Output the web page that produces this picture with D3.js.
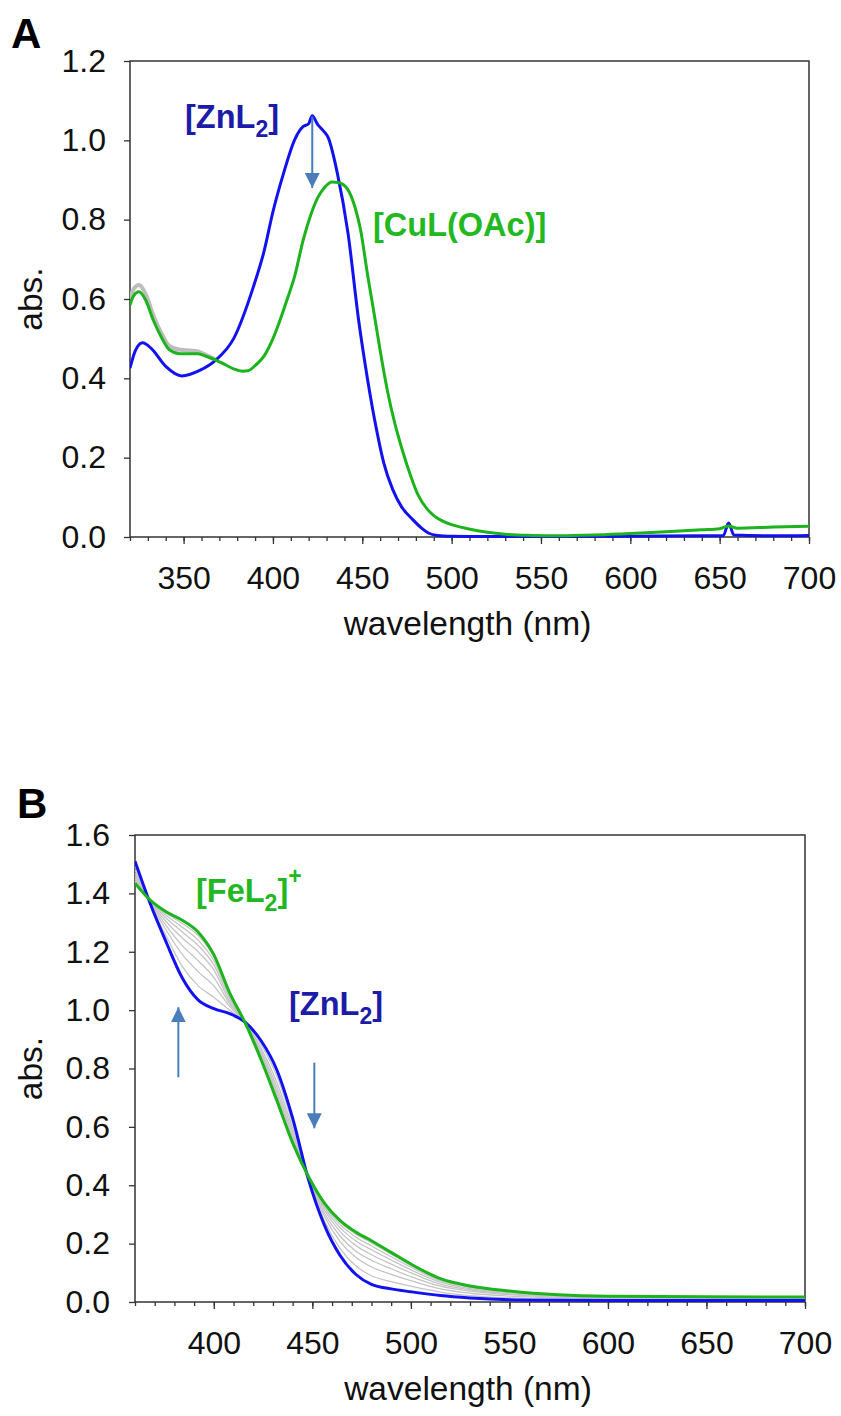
<!DOCTYPE html>
<html>
<head>
<meta charset="utf-8">
<script src="https://cdn.jsdelivr.net/npm/d3@7"></script>
<style>
  body { margin: 0; background: #fff; }
  svg text { font-family: "Liberation Sans", Arial, sans-serif; }
</style>
</head>
<body>
<svg id="chart" width="841" height="1416"></svg>
<script>
// ---- panel A data ----
var aBlueWl  = [320, 323, 327, 332, 340, 349, 359, 368, 378, 389, 395, 400, 406, 412, 415, 417, 420, 422, 425, 428, 431, 436, 442, 448, 453, 458, 462, 467, 472, 478, 483, 487, 492, 500, 520, 560, 600, 640, 652, 655, 658, 680, 700];
var aBlueAbs = [0.426, 0.47, 0.49, 0.475, 0.43, 0.406, 0.42, 0.446, 0.50, 0.63, 0.72, 0.82, 0.918, 1.0, 1.025, 1.035, 1.042, 1.062, 1.04, 1.025, 1.006, 0.918, 0.766, 0.545, 0.396, 0.27, 0.187, 0.12, 0.076, 0.045, 0.023, 0.01, 0.004, 0.002, 0.001, 0.001, 0.002, 0.003, 0.003, 0.035, 0.005, 0.003, 0.004];

var aGreenWl  = [320, 322, 325, 329, 333, 338, 342, 348, 354, 358, 363, 368, 373, 378, 383, 386, 390, 395, 400, 404, 408, 412, 417, 421, 425, 429, 433, 437, 442, 446, 449, 453, 456, 460, 464, 468, 472, 477, 481, 486, 490, 495, 500, 509, 520, 530, 545, 560, 580, 600, 620, 640, 650, 655, 660, 680, 700];
var aGreenAbs = [0.585, 0.608, 0.618, 0.595, 0.547, 0.50, 0.472, 0.462, 0.462, 0.462, 0.455, 0.446, 0.435, 0.424, 0.418, 0.419, 0.432, 0.456, 0.50, 0.547, 0.60, 0.655, 0.75, 0.81, 0.855, 0.882, 0.895, 0.893, 0.875, 0.83, 0.775, 0.66, 0.58, 0.47, 0.37, 0.29, 0.225, 0.155, 0.108, 0.072, 0.054, 0.04, 0.031, 0.021, 0.012, 0.007, 0.004, 0.003, 0.005, 0.009, 0.013, 0.018, 0.021, 0.028, 0.022, 0.025, 0.027];

var aGrayWl  = [320, 322, 325, 329, 333, 338, 342, 348, 354, 358, 363, 368];
var aGrayAbs = [0.60, 0.625, 0.635, 0.61, 0.56, 0.51, 0.482, 0.472, 0.47, 0.468, 0.458, 0.447];

var aXTicks = [350, 400, 450, 500, 550, 600, 650, 700];
var aYTicks = [0, 0.2, 0.4, 0.6, 0.8, 1.0, 1.2];

// ---- panel B data ----
var bWl = [360, 368, 376, 384, 392, 400, 408, 416, 424, 432, 440, 448, 456, 464, 472, 480, 490, 500, 515, 530, 550, 575, 600, 650, 700];
var bZnL2 = [1.51, 1.36, 1.23, 1.11, 1.035, 1.005, 0.988, 0.958, 0.895, 0.795, 0.63, 0.42, 0.265, 0.16, 0.095, 0.06, 0.045, 0.035, 0.022, 0.014, 0.008, 0.006, 0.005, 0.005, 0.005];
var bFeL2 = [1.435, 1.375, 1.336, 1.308, 1.268, 1.19, 1.06, 0.955, 0.83, 0.69, 0.545, 0.43, 0.34, 0.28, 0.24, 0.21, 0.17, 0.13, 0.08, 0.055, 0.038, 0.025, 0.02, 0.018, 0.017];
// intermediate titration spectra (grey)
var bStep1 = [1.495, 1.363, 1.251, 1.150, 1.084, 1.044, 1.000, 0.957, 0.882, 0.774, 0.613, 0.422, 0.280, 0.184, 0.124, 0.090, 0.070, 0.054, 0.034, 0.022, 0.014, 0.010, 0.008, 0.008, 0.007];
var bStep2 = [1.480, 1.366, 1.272, 1.191, 1.132, 1.083, 1.013, 0.957, 0.869, 0.753, 0.596, 0.424, 0.295, 0.208, 0.153, 0.120, 0.095, 0.073, 0.045, 0.030, 0.020, 0.014, 0.011, 0.010, 0.010];
var bStep3 = [1.469, 1.368, 1.288, 1.221, 1.169, 1.112, 1.022, 0.956, 0.859, 0.737, 0.583, 0.426, 0.306, 0.226, 0.175, 0.143, 0.114, 0.087, 0.054, 0.037, 0.025, 0.016, 0.013, 0.012, 0.012];
var bStep4 = [1.459, 1.370, 1.302, 1.247, 1.200, 1.138, 1.030, 0.956, 0.851, 0.724, 0.572, 0.427, 0.316, 0.242, 0.194, 0.162, 0.130, 0.100, 0.061, 0.042, 0.028, 0.019, 0.015, 0.014, 0.013];
var bStep5 = [1.451, 1.372, 1.314, 1.268, 1.222, 1.155, 1.040, 0.956, 0.844, 0.712, 0.563, 0.428, 0.324, 0.255, 0.210, 0.179, 0.144, 0.110, 0.068, 0.046, 0.032, 0.021, 0.017, 0.015, 0.014];
var bStep6 = [1.444, 1.373, 1.323, 1.284, 1.240, 1.170, 1.048, 0.955, 0.838, 0.703, 0.555, 0.429, 0.331, 0.266, 0.223, 0.192, 0.155, 0.119, 0.073, 0.050, 0.034, 0.023, 0.018, 0.016, 0.016];
var bStep7 = [1.439, 1.374, 1.331, 1.297, 1.256, 1.182, 1.055, 0.955, 0.833, 0.695, 0.549, 0.430, 0.336, 0.274, 0.233, 0.203, 0.164, 0.125, 0.077, 0.053, 0.037, 0.024, 0.019, 0.017, 0.016];

var bXTicks = [400, 450, 500, 550, 600, 650, 700];
var bYTicks = [0, 0.2, 0.4, 0.6, 0.8, 1.0, 1.2, 1.4, 1.6];

var blueLine = "#1212f0";
var greenLine = "#1db31d";
var blueText = "#1c1ca8";
var greenText = "#22b822";
var arrowCol = "#4a7ebb";

var svg = d3.select("svg#chart");

var defs = svg.append("defs");
defs.append("marker")
  .attr("id", "head")
  .attr("viewBox", "0 0 10 10")
  .attr("refX", 10).attr("refY", 5)
  .attr("markerWidth", 7.5).attr("markerHeight", 7.5)
  .attr("markerUnits", "strokeWidth")
  .attr("orient", "auto")
  .append("path")
  .attr("d", "M0,0 L10,5 L0,10 Z")
  .attr("fill", arrowCol);

function zip(wl, vals){
  return wl.map((w, i) => ({w: w, v: vals[i]}));
}

function panel(o){
  var g = svg.append("g");
  var x = d3.scaleLinear().domain(o.xDomain).range([o.left, o.right]);
  var y = d3.scaleLinear().domain(o.yDomain).range([o.bottom, o.top]);

  // minor x ticks
  g.append("g")
    .attr("transform", "translate(0," + o.bottom + ")")
    .call(d3.axisBottom(x).tickValues(d3.range(o.xDomain[0], o.xDomain[1] + 1, 10)).tickSize(4).tickFormat(""))
    .call(a => a.select(".domain").remove())
    .selectAll("line").attr("stroke", "#333").attr("stroke-width", 1.3);

  // major x ticks
  var xa = g.append("g")
    .attr("transform", "translate(0," + o.bottom + ")")
    .call(d3.axisBottom(x).tickValues(o.xTicks).tickSize(7).tickPadding(22).tickFormat(d3.format("d")));
  xa.select(".domain").remove();
  xa.selectAll("line").attr("stroke", "#333").attr("stroke-width", 1.3);
  xa.selectAll("text").attr("font-size", 32).attr("fill", "#111")
    .style("font-family", "'Liberation Sans', Arial, sans-serif");

  var ya = g.append("g")
    .attr("transform", "translate(" + o.left + ",0)")
    .call(d3.axisLeft(y).tickValues(o.yTicks).tickSize(6).tickPadding(o.yPad).tickFormat(d3.format(".1f")));
  ya.select(".domain").remove();
  ya.selectAll("line").attr("stroke", "#333").attr("stroke-width", 1.3);
  ya.selectAll("text").attr("font-size", 32).attr("fill", "#111")
    .style("font-family", "'Liberation Sans', Arial, sans-serif");

  // frame
  g.append("rect")
    .attr("x", o.left).attr("y", o.top)
    .attr("width", o.right - o.left).attr("height", o.bottom - o.top)
    .attr("fill", "none").attr("stroke", "#333").attr("stroke-width", 1.5);

  var line = d3.line()
    .x(d => x(d.w))
    .y(d => y(d.v))
    .curve(d3.curveMonotoneX);

  var clipId = "clip" + o.name;
  defs.append("clipPath").attr("id", clipId)
    .append("rect")
    .attr("x", o.left).attr("y", o.top - 2)
    .attr("width", o.right - o.left + 2).attr("height", o.bottom - o.top + 4);

  var plot = g.append("g").attr("clip-path", "url(#" + clipId + ")");
  plot.selectAll("path.series")
    .data(o.series)
    .enter().append("path")
    .attr("class", "series")
    .attr("d", s => line(s.pts))
    .attr("fill", "none")
    .attr("stroke", s => s.color)
    .attr("stroke-width", s => s.width)
    .attr("stroke-linejoin", "round");

  // axis titles
  g.append("text")
    .attr("x", (o.left + o.right) / 2 - 2)
    .attr("y", o.bottom + 98)
    .attr("text-anchor", "middle")
    .attr("font-size", 33.5).attr("fill", "#111")
    .text("wavelength (nm)");

  g.append("text")
    .attr("transform", "translate(42," + ((o.top + o.bottom) / 2) + ") rotate(-90)")
    .attr("text-anchor", "middle")
    .attr("font-size", 33.5).attr("fill", "#111")
    .text("abs.");

  g.append("text")
    .attr("x", o.letterX).attr("y", o.letterY)
    .attr("font-size", 42).attr("font-weight", "bold").attr("fill", "#000")
    .text(o.name);

  // arrows
  o.arrows.forEach(function(a){
    g.append("line")
      .attr("x1", x(a.w)).attr("y1", y(a.from))
      .attr("x2", x(a.w)).attr("y2", y(a.to))
      .attr("stroke", arrowCol).attr("stroke-width", 2)
      .attr("marker-end", "url(#head)");
  });

  return {g: g, x: x, y: y};
}

function label(g, px, py, color, main, sub, tail, sup){
  var t = g.append("text")
    .attr("x", px).attr("y", py)
    .attr("font-size", 32.5).attr("font-weight", "bold").attr("fill", color);
  t.append("tspan").text(main);
  if(sub){
    t.append("tspan").attr("font-size", 23).attr("dy", 9).text(sub);
    t.append("tspan").attr("dy", -9).text(tail);
  }
  if(sup){
    t.append("tspan").attr("font-size", 23).attr("dy", -18).text(sup);
  }
}

var pA = panel({
  name: "A", letterX: 11, letterY: 48,
  xDomain: [320, 700], yDomain: [0, 1.2],
  left: 130, right: 809, top: 61, bottom: 537, yPad: 18,
  xTicks: aXTicks, yTicks: aYTicks,
  series: [
    {pts: zip(aGrayWl, aGrayAbs), color: "#bdbdbd", width: 4},
    {pts: zip(aBlueWl, aBlueAbs), color: blueLine, width: 3},
    {pts: zip(aGreenWl, aGreenAbs), color: greenLine, width: 3}
  ],
  arrows: [{w: 422, from: 1.06, to: 0.88}]
});
label(pA.g, 185, 128, blueText, "[ZnL", "2", "]");
label(pA.g, 373, 236, greenText, "[CuL(OAc)]");

var grays = [bStep1, bStep2, bStep3, bStep4, bStep5, bStep6, bStep7];
var bSeries = grays.map(s => ({pts: zip(bWl, s), color: "#c4c4c4", width: 1.3}));
bSeries.push({pts: zip(bWl, bZnL2), color: blueLine, width: 3});
bSeries.push({pts: zip(bWl, bFeL2), color: greenLine, width: 3});

var pB = panel({
  name: "B", letterX: 17, letterY: 818,
  xDomain: [360, 700], yDomain: [0, 1.6],
  left: 135, right: 805, top: 835, bottom: 1302, yPad: 19,
  xTicks: bXTicks, yTicks: bYTicks,
  series: bSeries,
  arrows: [{w: 382, from: 0.77, to: 1.01}, {w: 451, from: 0.82, to: 0.595}]
});
label(pB.g, 196, 902, greenText, "[FeL", "2", "]", "+");
label(pB.g, 289, 1015, blueText, "[ZnL", "2", "]");
</script>
</body>
</html>
